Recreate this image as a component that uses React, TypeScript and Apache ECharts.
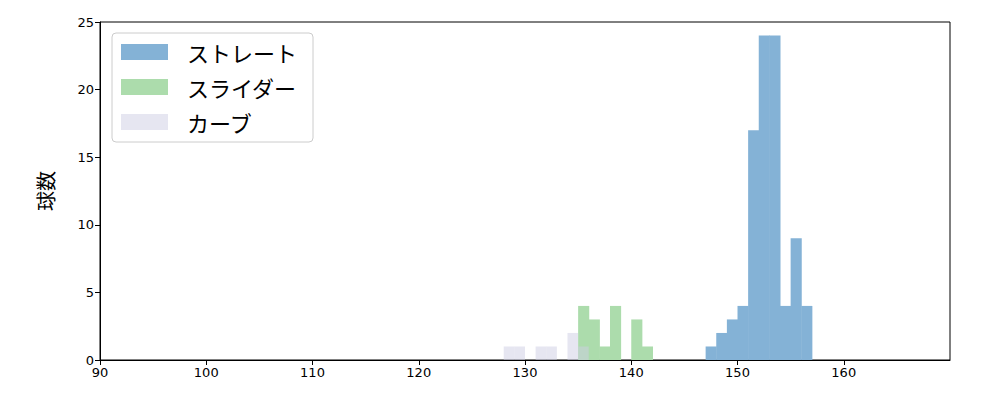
import React, { useEffect, useRef } from "react";
import * as echarts from "echarts";

const seriesNames = ["ストレート", "スライダー", "カーブ"];
const seriesColors = ["#84b2d6", "#acdcac", "rgba(205,205,228,0.5)"];

// bins: [start, end, count]
const straightBins: number[][] = [
  [147, 148, 1], [148, 149, 2], [149, 150, 3], [150, 151, 4], [151, 152, 17],
  [152, 153, 24], [153, 154, 24], [154, 155, 4], [155, 156, 9], [156, 157, 4],
];
const sliderBins: number[][] = [
  [135, 136, 4], [136, 137, 3], [137, 138, 1], [138, 139, 4], [139, 140, 0],
  [140, 141, 3], [141, 142, 1],
];
const curveBins: number[][] = [
  [128, 129, 1], [129, 130, 1], [130, 131, 0], [131, 132, 1], [132, 133, 1],
  [133, 134, 0], [134, 135, 2], [135, 136, 1],
];

const xTickValues = [90, 100, 110, 120, 130, 140, 150, 160];
const xRange = { min: 90, max: 170 };
const yTicks = { min: 0, max: 25, interval: 5 };

function makeSeries(name: string, data: number[][], color: string, seam: boolean) {
  return {
    type: "custom",
    name,
    data,
    itemStyle: { color },
    renderItem: (params: any, api: any) => {
      const x0 = api.value(0);
      const x1 = api.value(1);
      const c = api.value(2);
      const p0 = api.coord([x0, 0]);
      const p1 = api.coord([x1, c]);
      return {
        type: "rect",
        shape: { x: p0[0], y: p1[1], width: p1[0] - p0[0] + (seam ? 0.5 : 0), height: p0[1] - p1[1] },
        style: { fill: color },
      };
    },
    encode: { x: [0, 1], y: 2 },
  };
}

export default function App() {
  const ref = useRef<HTMLDivElement>(null);
  useEffect(() => {
    document.body.style.margin = "0";
    const chart = echarts.init(ref.current!, undefined, { renderer: "svg" });
    chart.setOption({
      animation: false,
      textStyle: { fontFamily: "DejaVu Sans, Noto Sans CJK JP" },
      grid: {
        left: 100, right: 50, top: 22, bottom: 40,
        show: true, borderColor: "#000", borderWidth: 1,
      },
      legend: {
        orient: "vertical",
        left: 112, top: 33,
        icon: "rect",
        itemWidth: 47, itemHeight: 16, itemGap: 13,
        padding: [8, 16, 9, 9],
        borderColor: "#ccc", borderWidth: 1, borderRadius: 4,
        textStyle: { fontSize: 22, color: "#000", fontFamily: "Noto Sans CJK JP", padding: [0, 0, 0, 14] },
        data: seriesNames.map((n, i) => ({ name: n, itemStyle: { color: seriesColors[i] } })),
      },
      xAxis: {
        type: "value",
        min: xRange.min, max: xRange.max,
        axisLine: { show: true, lineStyle: { color: "#000" } },
        axisTick: { show: true, length: 5, lineStyle: { color: "#000" }, customValues: xTickValues },
        splitLine: { show: false },
        axisLabel: { color: "#000", fontSize: 13, margin: 6, customValues: xTickValues },
      },
      yAxis: {
        type: "value",
        min: yTicks.min, max: yTicks.max, interval: yTicks.interval,
        name: "球数",
        nameLocation: "middle",
        nameGap: 45,
        nameTextStyle: { fontSize: 20, color: "#000", fontFamily: "Noto Sans CJK JP" },
        axisLine: { show: true, lineStyle: { color: "#000" } },
        axisTick: { show: true, length: 5, lineStyle: { color: "#000" } },
        splitLine: { show: false },
        axisLabel: { color: "#000", fontSize: 13, margin: 6 },
      },
      series: [
        makeSeries(seriesNames[0], straightBins, seriesColors[0], true),
        makeSeries(seriesNames[1], sliderBins, seriesColors[1], true),
        makeSeries(seriesNames[2], curveBins, seriesColors[2], false),
      ],
    });
    return () => chart.dispose();
  }, []);
  return <div ref={ref} style={{ width: 1000, height: 400 }} />;
}
